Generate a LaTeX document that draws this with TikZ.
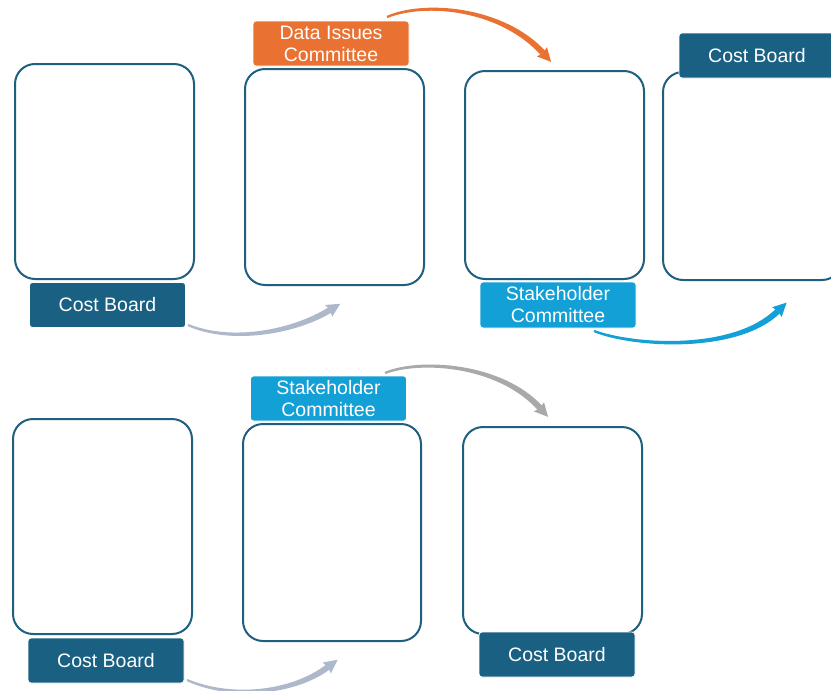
\documentclass[tikz,border=0pt]{standalone}
\usepackage{fontspec}
\setmainfont{Liberation Sans}
\usetikzlibrary{calc}

\definecolor{teal}{HTML}{1A6083}
\definecolor{frame}{HTML}{1F5F7F}
\definecolor{orangeA}{HTML}{E97132}
\definecolor{skyblue}{HTML}{12A0D7}
\definecolor{slategrey}{HTML}{ADB9CA}
\definecolor{midgrey}{HTML}{A9A9A9}

% Tapered curved arrow: #1 colour, #2 start, #3 control 1, #4 control 2, #5 end of shaft
\newcommand\flowarrow[5]{%
  \fill[#1] ($(#2)!1.1pt!90:(#3)$)
      .. controls ($(#3)!1.9pt!-90:(#2)$) and ($(#4)!2.7pt!90:(#5)$) .. ($(#5)!3pt!-90:(#4)$)
      -- ($(#5)!3pt!90:(#4)$)
      .. controls ($(#4)!2.7pt!-90:(#5)$) and ($(#3)!1.9pt!90:(#2)$) .. ($(#2)!1.1pt!-90:(#3)$)
      -- cycle;
  \fill[#1] ($(#5)!-12pt!(#4)$) -- ($(#5)!7pt!77:(#4)$) -- (#5)
      -- ($(#5)!7pt!-77:(#4)$) -- cycle;
}

\tikzset{
  panel/.style={draw=frame, line width=2pt, fill=white, rounded corners=20pt,
    minimum width=179pt, inner sep=0pt},
  tag/.style={draw=white, line width=0.8pt, rounded corners=3pt, text=white,
    align=center, inner sep=0pt, minimum width=156pt, minimum height=45pt,
    font=\fontsize{19.5}{22}\selectfont},
  costtag/.style={tag, fill=teal},
  issuetag/.style={tag, fill=orangeA},
  staketag/.style={tag, fill=skyblue},
}

\begin{document}
\begin{tikzpicture}[x=1pt, y=-1pt]
  \clip (0,0) rectangle (831,691);
  \fill[white] (0,0) rectangle (831,691);

  % first row of panels
  \node[panel, minimum height=215pt] (p1) at (104.5,171.5) {};
  \node[panel, minimum height=216pt] (p2) at (334.5,177) {};
  \node[panel, minimum height=208pt] (p3) at (554.5,175) {};
  \node[panel, minimum height=208pt] (p4) at (752.5,176) {};

  \node[costtag] (l1) at (107.5,305) {Cost Board};
  \node[issuetag] (l2) at (331,43.5) {Data Issues\\Committee};
  \node[staketag, minimum height=46pt] (l3) at (558,305) {Stakeholder\\Committee};
  \node[costtag] (l4) at (757,55.5) {Cost Board};

  % second row of panels
  \node[panel, minimum height=215pt] (p5) at (102.5,526.5) {};
  \node[panel, minimum width=178pt, minimum height=217pt] (p6) at (332,532.5) {};
  \node[panel, minimum height=207pt] (p7) at (552.5,530.5) {};

  \node[costtag] (l5) at (106,660.5) {Cost Board};
  \node[staketag] (l6) at (328.5,398.5) {Stakeholder\\Committee};
  \node[costtag] (l7) at (557,654.5) {Cost Board};

  % arrow anchor points
  \coordinate (a1s) at (188,325);
  \coordinate (a1c) at (230,343);
  \coordinate (a1d) at (292,333);
  \coordinate (a1e) at (330,310);

  \coordinate (a2s) at (387,17);
  \coordinate (a2c) at (425,1);
  \coordinate (a2d) at (502,8);
  \coordinate (a2e) at (543,53);

  \coordinate (a3s) at (594,331);
  \coordinate (a3c) at (632,346);
  \coordinate (a3d) at (735,353);
  \coordinate (a3e) at (778,311);

  \coordinate (a4s) at (385,373);
  \coordinate (a4c) at (420,359);
  \coordinate (a4d) at (500,364);
  \coordinate (a4e) at (540,408);

  \coordinate (a5s) at (187,680);
  \coordinate (a5c) at (230,699);
  \coordinate (a5d) at (292,694);
  \coordinate (a5e) at (328,667);

  \flowarrow{slategrey}{a1s}{a1c}{a1d}{a1e}
  \flowarrow{orangeA}{a2s}{a2c}{a2d}{a2e}
  \flowarrow{skyblue}{a3s}{a3c}{a3d}{a3e}
  \flowarrow{midgrey}{a4s}{a4c}{a4d}{a4e}
  \flowarrow{slategrey}{a5s}{a5c}{a5d}{a5e}
\end{tikzpicture}
\end{document}
